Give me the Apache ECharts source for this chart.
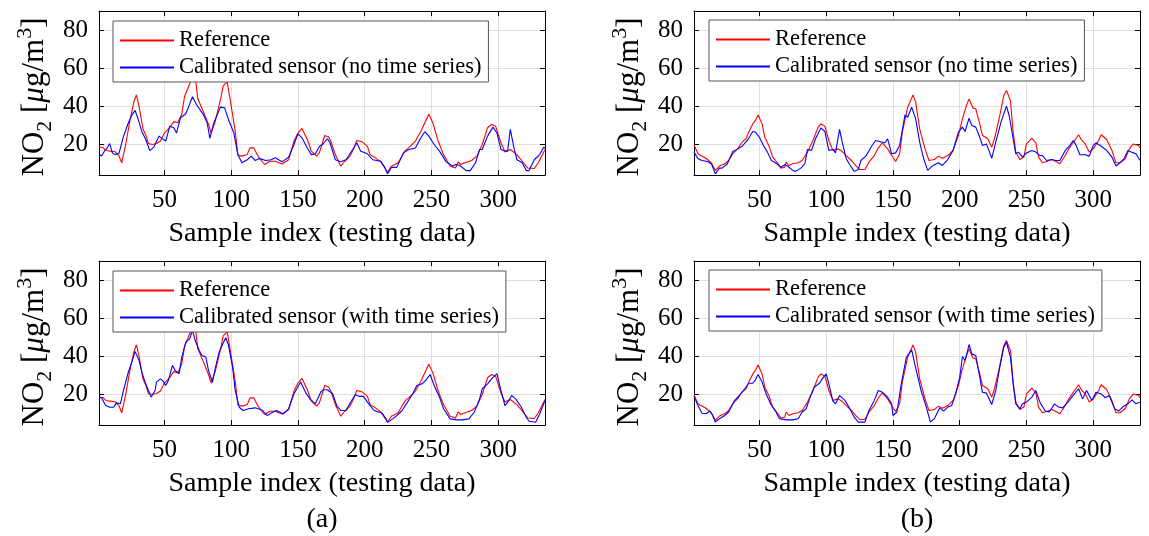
<!DOCTYPE html>
<html>
<head>
<meta charset="utf-8">
<script src="https://cdn.jsdelivr.net/npm/echarts@6/dist/echarts.min.js"></script>
<style>
html,body{margin:0;padding:0;background:#fff;}
#chart{width:1149px;height:536px;}
</style>
</head>
<body>
<div id="chart"></div>
<script>
// ---------- data ----------
const xTicks = [50, 100, 150, 200, 250, 300];
const yTicks = [20, 40, 60, 80];
const seriesNames = ['Reference', 'Calibrated sensor (no time series)', 'Calibrated sensor (with time series)'];
const panelLabels = ['(a)', '(b)'];
const xLabel = 'Sample index (testing data)';

// (a) reference NO2 [sample, value]
const refA = [[1,18.6],[4,18.4],[6,17],[9,16.5],[13,16.2],[16,14],[18,10.4],[21,20],[24,32],[27,42],[29,46],[31,40],[34,28],[36,25],[38,20.5],[41,20],[44,20.5],[47,21.8],[50,26],[54,29],[57,32],[60,31.4],[63,36],[65,45],[69,52],[71,57],[73,56],[75,44],[79,37.5],[83,30.5],[85,26],[88,32],[92,43.7],[94,50.7],[97,52.8],[99,44.5],[103,27],[105,14.5],[108,13.9],[112,14.7],[114,18.2],[117,18.2],[120,14],[122,12],[125,9.5],[129,11.2],[133,11.2],[138,9.8],[143,12],[147,21.8],[150,26],[153,28.4],[157,22.6],[160,16.5],[164,13.9],[166,15.6],[168,20],[170,24.7],[173,23.9],[175,21],[178,14.7],[182,8.6],[185,11.2],[189,13.9],[192,18.2],[194,22.1],[198,21.4],[202,19],[204,14.7],[208,13],[212,10.9],[217,5.6],[220,8.6],[225,10.4],[230,16.5],[234,19],[238,21.8],[242,27],[245,31.4],[248,35.8],[251,31.4],[255,21.8],[259,14.7],[264,8.6],[268,7.7],[270,10.9],[272,9.5],[275,10.4],[280,11.6],[284,13.9],[288,20],[292,28.8],[295,30.5],[298,29.6],[302,20.9],[305,16.1],[309,17.4],[314,14.7],[318,11.2],[322,7.7],[327,7.4],[330,10.4],[335,17.4]];
// (a) calibrated sensor, no time series
const calANoTS = [[1,14.7],[3,14],[5,16.5],[7,18],[9,20.5],[11,15.6],[13,14.7],[16,15.3],[19,23.5],[23,31.4],[26,35.8],[28,37.9],[30,34],[33,27],[36,22.6],[39,16.8],[42,18.6],[46,24.4],[48,23.2],[51,21.8],[54,29.6],[57,28.8],[59,26],[62,34],[66,36.1],[68,39.6],[71,45],[74,41],[79,35.8],[82,31.4],[84,23.2],[87,31.4],[92,39.6],[95,39.3],[98,33],[102,26],[105,14.7],[108,10.4],[112,12],[115,13.9],[118,11.6],[121,12.6],[126,11.6],[130,12],[133,13],[138,10.9],[143,13.3],[147,20],[150,25.6],[153,23.5],[157,18.2],[160,14.7],[163,15],[166,19],[169,20.4],[172,23],[174,20.9],[178,12],[182,10.9],[186,12],[191,17.4],[194,20.9],[197,16.5],[202,15.1],[206,12],[212,11.2],[215,8],[217,4.6],[220,8],[224,8],[229,15.6],[233,17.4],[238,18.2],[242,23.5],[245,26.7],[248,24.4],[252,20],[256,16.5],[261,10.9],[266,8.6],[268,9.5],[271,9.1],[276,6.3],[279,6.3],[283,10.4],[286,17.4],[288,17.4],[292,24.4],[296,29.1],[299,26],[302,17.4],[304,16.8],[307,16.5],[309,27.9],[312,17.4],[314,12],[318,10.4],[321,6.3],[323,6.3],[327,12],[331,14.7],[334,18.6],[335,18.2]];
// (a) calibrated sensor, with time series
const calATS = [[1,18.6],[3,18.2],[6,14.2],[9,13.3],[12,13.3],[14,15.6],[17,15.1],[19,21.2],[23,31.8],[26,37.9],[28,42.6],[31,37.9],[33,31.8],[36,25.6],[38,22.1],[40,18.6],[43,22.1],[44,26.5],[47,28.2],[49,27],[51,24.7],[53,27.4],[56,35.3],[58,32.6],[61,30.9],[63,39.6],[66,47.5],[69,49.3],[71,53.7],[73,48.4],[76,43.2],[78,40.5],[81,39.6],[83,32.6],[86,26.5],[88,33.5],[91,42.3],[94,47],[96,49.8],[98,45.8],[101,34.4],[103,22.1],[106,13.3],[109,11.6],[113,12.5],[118,13],[123,11.9],[127,8.9],[131,10.7],[134,11.6],[139,9.8],[143,12.5],[147,20.4],[152,26.5],[156,20.7],[159,17.7],[163,15.1],[167,21.2],[169,22.5],[172,22.5],[176,20.4],[179,14.2],[182,11.6],[186,11.6],[189,15.4],[193,20],[196,19],[199,19],[203,15.1],[207,11.6],[211,10.7],[213,10.2],[216,7.2],[217,5.4],[221,7.2],[224,8.9],[228,11.6],[232,16],[236,20.4],[239,24.7],[243,25.6],[246,27.7],[249,30.5],[252,24.7],[256,18.6],[259,12.5],[264,7.2],[269,6.7],[273,6.7],[278,7.2],[282,10.7],[286,17.7],[288,23],[292,25.6],[295,28.2],[299,30.9],[302,22.1],[305,14.2],[308,16.8],[310,19.5],[313,17.7],[317,13.7],[321,8.1],[323,6],[328,5.4],[331,9.8],[335,16.8]];
// (b) reference NO2
const refB = [[1,19.8],[4,15.1],[6,14.2],[10,12.8],[14,10.4],[17,6.4],[20,8.7],[24,9.9],[27,11.6],[30,15.1],[34,18.1],[37,21.2],[40,23],[42,26.5],[45,30.8],[47,32.6],[49,35.5],[52,30.8],[54,23.8],[57,19.5],[60,13.4],[64,9.9],[66,7.6],[69,8.1],[70,10.8],[72,9],[75,9.9],[79,10.4],[82,11.6],[86,16],[90,22.1],[94,29.1],[96,30.8],[99,29.6],[102,22.1],[105,16.9],[109,17.7],[112,16.3],[115,14.2],[119,11.6],[122,9],[125,6.9],[129,6.9],[132,10.8],[136,14.2],[139,18.1],[142,20.9],[146,17.7],[149,14.2],[152,11.1],[155,15.1],[157,26.5],[161,39.5],[165,46],[167,42.2],[170,28.2],[174,17.7],[177,11.6],[181,12.1],[184,13.9],[187,12.8],[191,14.2],[195,16.9],[199,24.7],[202,33.4],[205,40.4],[207,43.9],[210,39],[212,38.7],[215,30.8],[217,24.7],[221,23],[224,18.6],[226,23],[230,35.2],[233,45.7],[235,48.3],[238,43],[240,26.5],[242,16],[245,12.1],[248,13.4],[250,20.3],[254,23.3],[257,20.9],[259,13.4],[262,10.4],[265,11.1],[269,12.1],[272,11.1],[275,9.9],[279,14.2],[282,18.1],[286,22.1],[289,25.1],[291,22.6],[294,20.3],[297,16],[300,17.7],[304,22.1],[306,25.1],[310,22.6],[314,16.9],[317,10.4],[320,10.4],[324,12.5],[327,17.7],[330,20.3],[334,19.5],[335,18.1]];
// (b) calibrated sensor, no time series
const calBNoTS = [[1,16],[4,12.5],[7,11.6],[11,11.1],[14,9.9],[17,4.6],[20,7.6],[22,7.6],[26,9.9],[30,16.3],[34,17.7],[37,19.1],[41,22.1],[45,26.8],[47,26.5],[50,23.8],[53,19.5],[56,16],[59,11.6],[63,9.9],[66,8.1],[69,9.4],[71,8.7],[75,6.4],[77,5.9],[81,7.6],[84,9.9],[86,17.4],[89,16.9],[92,23],[96,28.7],[99,26.8],[102,16.9],[105,17.4],[107,15.6],[110,27.9],[112,21.2],[115,12.5],[118,9],[121,5.9],[124,6.9],[126,11.6],[130,14.2],[134,19.1],[137,22.1],[140,21.6],[144,20.9],[146,23],[149,15.1],[152,15.6],[155,19.5],[159,35.5],[161,34.3],[164,39.5],[167,33.4],[170,21.2],[173,12.5],[176,6.4],[180,9],[184,10.4],[187,9],[191,12.1],[195,16.9],[199,26.5],[202,29.1],[204,26.8],[207,33.8],[209,29.9],[212,29.1],[215,23.8],[217,19.5],[220,20.3],[224,12.8],[227,21.2],[231,32],[235,40.1],[237,35.2],[240,23],[242,15.1],[244,16],[247,13.4],[250,15.6],[254,16.9],[257,16],[260,14.2],[262,14.2],[265,11.6],[269,12.1],[272,11.6],[275,11.6],[279,16.9],[282,19.1],[285,22.1],[287,19.8],[290,14.6],[294,14.6],[297,13.9],[300,19.5],[302,20.9],[306,19.1],[310,16.9],[314,13.4],[317,8.7],[320,10.4],[323,12.5],[326,16.9],[330,15.6],[332,15.1],[335,11.6]];
// (b) calibrated sensor, with time series
const calBTS = [[1,19],[4,14.2],[7,10.2],[10,9.9],[13,11.3],[15,9],[17,5.5],[20,7.3],[24,9],[27,10.8],[31,16.5],[35,19.5],[39,23],[42,25.9],[45,25.9],[47,27.7],[49,30.5],[52,26.5],[55,20.3],[59,14.2],[62,11.3],[65,7.3],[70,6.7],[75,6.7],[79,7.3],[82,10.8],[85,12.5],[88,18.6],[91,23.8],[95,25.9],[97,28.2],[100,30.8],[102,25.6],[105,16.5],[107,15.1],[110,19.5],[114,16.9],[117,13.4],[121,8.1],[124,5.5],[129,5.5],[132,11.6],[136,16.9],[139,22.1],[142,21.2],[146,18.6],[149,15.1],[150,9],[153,10.8],[156,24.7],[160,39.5],[164,43.4],[167,34],[171,22.1],[175,13.4],[178,5.5],[181,7.3],[185,13],[188,11.3],[191,13.4],[194,14.2],[197,20.3],[200,29.1],[202,39.9],[204,37.8],[207,46.2],[209,41.3],[212,40.4],[215,29.1],[217,21.2],[220,20.7],[224,14.8],[227,22.1],[230,34.3],[233,44.8],[235,47.4],[238,39.5],[240,25.6],[242,15.1],[245,12.5],[247,15.1],[250,16],[254,18.6],[257,22.1],[260,16],[264,11.3],[267,10.8],[271,15.1],[274,13.4],[277,13],[281,16],[285,19.5],[289,23],[292,17.7],[295,22.1],[299,16.9],[302,21.2],[306,20.3],[309,18.3],[312,19.5],[316,12.5],[319,11.3],[322,13.4],[326,15.1],[329,17.2],[332,15.1],[335,16]];

// ---------- layout / style ----------
const FONT = "'Liberation Serif', 'Times New Roman', serif";
const X_MIN = 1, X_MAX = 335, Y_MIN = 4, Y_MAX = 90;
const GRID_W = 446, GRID_H = 164;
const panels = [
  {left: 99,  top: 11,  ref: refA, cal: calANoTS, calName: seriesNames[1], legLeft: 113, legTop: 21},
  {left: 694, top: 11,  ref: refB, cal: calBNoTS, calName: seriesNames[1], legLeft: 709, legTop: 20},
  {left: 99,  top: 261, ref: refA, cal: calATS,   calName: seriesNames[2], legLeft: 113, legTop: 271},
  {left: 694, top: 261, ref: refB, cal: calBTS,   calName: seriesNames[2], legLeft: 709, legTop: 270}
];

const axisLineStyle = {color: '#000', width: 1};
const gridLineStyle = {color: '#e0e0e0', width: 1};

const grid = [], xAxis = [], yAxis = [], series = [], legend = [];
panels.forEach((p, i) => {
  grid.push({left: p.left, top: p.top, width: GRID_W, height: GRID_H, containLabel: false});
  xAxis.push({
    type: 'value', gridIndex: i, position: 'bottom', min: X_MIN, max: X_MAX,
    axisLine: {show: true, onZero: false, lineStyle: axisLineStyle},
    axisTick: {show: true, inside: true, length: 5, customValues: xTicks, lineStyle: axisLineStyle},
    axisLabel: {show: true, customValues: xTicks, margin: 13, fontFamily: FONT, fontSize: 25, color: '#000', lineHeight: 25},
    splitLine: {show: true, lineStyle: gridLineStyle},
    name: xLabel, nameLocation: 'middle', nameGap: 45,
    nameTextStyle: {fontFamily: FONT, fontSize: 28, color: '#000', lineHeight: 28}
  });
  xAxis.push({
    type: 'value', gridIndex: i, position: 'top', min: X_MIN, max: X_MAX,
    axisLine: {show: true, onZero: false, lineStyle: axisLineStyle},
    axisTick: {show: true, inside: true, length: 5, customValues: xTicks, lineStyle: axisLineStyle},
    axisLabel: {show: false},
    splitLine: {show: false}
  });
  yAxis.push({
    type: 'value', gridIndex: i, position: 'left', min: Y_MIN, max: Y_MAX,
    axisLine: {show: true, onZero: false, lineStyle: axisLineStyle},
    axisTick: {show: true, inside: true, length: 5, customValues: yTicks, lineStyle: axisLineStyle},
    axisLabel: {show: true, customValues: yTicks, margin: 11, fontFamily: FONT, fontSize: 25, color: '#000'},
    splitLine: {show: true, lineStyle: gridLineStyle},
    name: '{n|NO}{sub|2}{n| [}{mu|μ}{n|g/m}{sup|3}{n|]}',
    nameLocation: 'middle', nameRotate: 90, nameGap: 43,
    nameTextStyle: {
      fontFamily: FONT, fontSize: 31, color: '#000', padding: [0, 8, 0, 0],
      rich: {
        n:   {fontFamily: FONT, fontSize: 31, color: '#000', lineHeight: 42},
        mu:  {fontFamily: FONT, fontSize: 31, color: '#000', lineHeight: 42, fontStyle: 'italic'},
        sub: {fontFamily: FONT, fontSize: 22, color: '#000', lineHeight: 22, verticalAlign: 'bottom'},
        sup: {fontFamily: FONT, fontSize: 22, color: '#000', lineHeight: 22, verticalAlign: 'top'}
      }
    }
  });
  yAxis.push({
    type: 'value', gridIndex: i, position: 'right', min: Y_MIN, max: Y_MAX,
    axisLine: {show: true, onZero: false, lineStyle: axisLineStyle},
    axisTick: {show: true, inside: true, length: 5, customValues: yTicks, lineStyle: axisLineStyle},
    axisLabel: {show: false},
    splitLine: {show: false}
  });
  series.push({
    type: 'line', name: seriesNames[0], xAxisIndex: 2 * i, yAxisIndex: 2 * i,
    data: p.ref, symbol: 'none', smooth: false, clip: true,
    lineStyle: {color: '#ff0000', width: 1.1}, itemStyle: {color: '#ff0000'}
  });
  series.push({
    type: 'line', name: p.calName, xAxisIndex: 2 * i, yAxisIndex: 2 * i,
    data: p.cal, symbol: 'none', smooth: false, clip: true,
    lineStyle: {color: '#0000ff', width: 1.1}, itemStyle: {color: '#0000ff'}
  });
  legend.push({
    left: p.legLeft, top: p.legTop, orient: 'vertical', itemGap: 0,
    itemWidth: 54, itemHeight: 14, padding: [6, 7, 1, 6],
    itemStyle: {opacity: 0},
    borderColor: '#555', borderWidth: 1, backgroundColor: '#fff', borderRadius: 0,
    selectedMode: false,
    textStyle: {fontFamily: FONT, fontSize: 22.5, color: '#000', lineHeight: 27},
    data: [seriesNames[0], p.calName]
  });
});

const chart = echarts.init(document.getElementById('chart'), null, {renderer: 'canvas'});
chart.setOption({
  animation: false,
  backgroundColor: '#fff',
  grid, xAxis, yAxis, series, legend,
  graphic: [
    {type: 'text', x: 322, y: 520, style: {text: panelLabels[0], font: "28px " + FONT, fill: '#000', textAlign: 'center', textVerticalAlign: 'middle'}},
    {type: 'text', x: 917, y: 520, style: {text: panelLabels[1], font: "28px " + FONT, fill: '#000', textAlign: 'center', textVerticalAlign: 'middle'}}
  ]
});
</script>
</body>
</html>
